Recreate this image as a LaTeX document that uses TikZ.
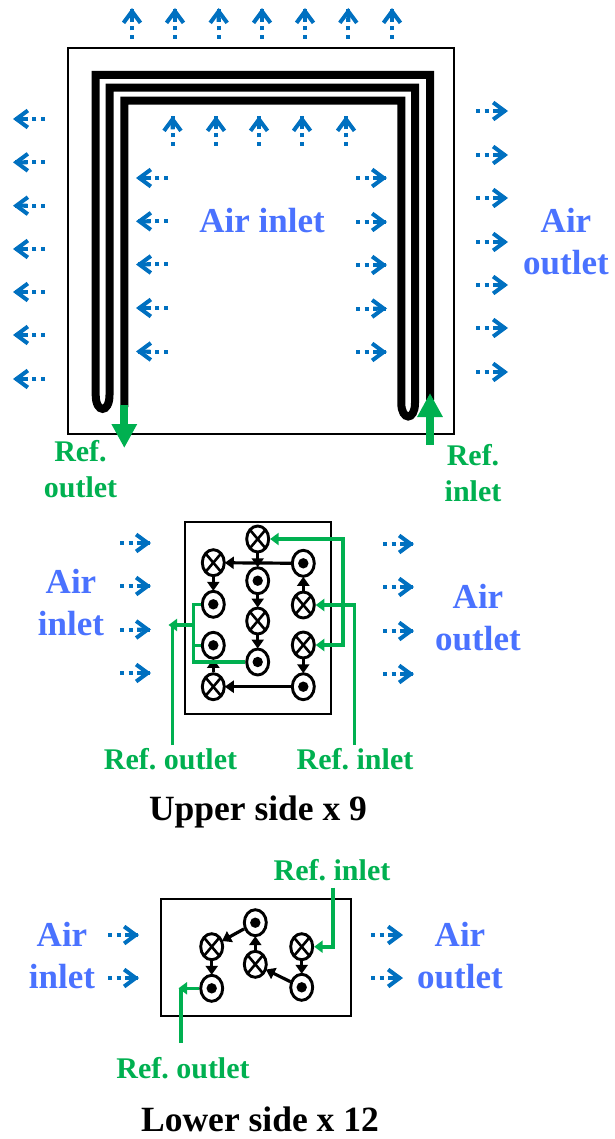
\documentclass[tikz,border=0pt]{standalone}
\usepackage{fontspec}
\setmainfont{Liberation Serif}
\usetikzlibrary{arrows.meta,shapes.geometric,calc}
\definecolor{refgreen}{HTML}{00B050}
\definecolor{airblue}{HTML}{0070C0}
\definecolor{labblue}{HTML}{4A72FF}
\frenchspacing
\tikzset{
  airshaft/.style={draw=airblue,line width=4pt,dash pattern=on 4pt off 4.7pt},
  airhead/.style={draw=airblue,line width=4pt,-{Straight Barb[length=11.5pt,width=17pt,line width=4pt,color=airblue]}},
  frame/.style={rectangle,draw=black,line width=2pt,inner sep=0pt},
  tube/.style={draw=black,line width=8pt,miter limit=10},
  coil/.style={ellipse,draw=black,line width=2.9pt,fill=white,inner sep=0pt,minimum width=22pt,minimum height=26pt},
  xcoil/.style={coil,path picture={
    \draw[line width=2.6pt] (path picture bounding box.north west)--(path picture bounding box.south east);
    \draw[line width=2.6pt] (path picture bounding box.north east)--(path picture bounding box.south west);}},
  dcoil/.style={coil,path picture={\fill[black] (path picture bounding box.center) circle (5.2pt);}},
  flow/.style={draw=black,line width=3.2pt,-{Triangle[length=9pt,width=12pt]},shorten >=-1pt},
  gline/.style={draw=refgreen,line width=3.6pt},
  garrow/.style={gline,-{Triangle[length=8.5pt,width=12pt]}},
  bigarrow/.style={draw=refgreen,line width=8pt,-{Triangle[length=24pt,width=24pt]}},
  airlabel/.style={text=labblue,font=\fontsize{35}{42}\selectfont\bfseries,inner sep=0pt,anchor=base,align=center},
  reflabel/.style={text=refgreen,font=\fontsize{30}{36}\selectfont\bfseries,inner sep=0pt,anchor=base,align=center},
  caption/.style={text=black,font=\fontsize{35.5}{40}\selectfont\bfseries,inner sep=0pt,anchor=base},
}
% shaft of dots and an open head, between two named coordinates
\newcommand{\airarrow}[5]{\coordinate (#1s) at (#2,#3);\coordinate (#1e) at (#4,#5);
  \draw[airshaft] (#1s)--(#1e);
  \draw[airhead] ($(#1s)!0.55!(#1e)$)--(#1e);}
\begin{document}
\begin{tikzpicture}[x=1pt,y=-1pt]
\useasboundingbox (0,0) rectangle (614,1139);
% main frame
\node[frame,minimum width=386.8pt,minimum height=386.3pt] (mainbox) at (261,241) {};
% serpentine
\coordinate (s1) at (124.3,407);
\coordinate (s2) at (124.3,100.7);
\coordinate (s3) at (401.3,100.7);
\coordinate (s4) at (430,75);
\draw[tube] (s1)--(s2)--(s3)--(401.3,403) .. controls (401.3,421) and (415,421) .. (415,403)
  --(415,87.7)--(109.5,87.7)--(109.5,395) .. controls (109.5,413.5) and (95.7,413.5) .. (95.7,395)
  --(95.7,75)--(s4)--(430,400);
% ref arrows
\coordinate (ro1) at (124.3,405);
\coordinate (ro2) at (124.3,448);
\draw[bigarrow] (ro1)--(ro2);
\coordinate (ri1) at (430,445);
\coordinate (ri2) at (430,393);
\draw[bigarrow] (ri1)--(ri2);
% blue arrows, top view
\foreach \x [count=\i] in {132,175,218.7,262,305,348.3,392} {\airarrow{ta\i}{\x}{39}{\x}{8}}
\foreach \y [count=\i] in {119,162.3,205.7,249,292,335,379} {\airarrow{la\i}{45}{\y}{13}{\y}}
\foreach \x [count=\i] in {172.5,216,259,302,346} {\airarrow{ia\i}{\x}{146}{\x}{116}}
\foreach \y [count=\i] in {178,221.3,264.5,308,351.5} {\airarrow{ila\i}{168}{\y}{136}{\y}}
\foreach \y [count=\i] in {178,222,265,308.5,352} {\airarrow{ira\i}{356}{\y}{387}{\y}}
\foreach \y [count=\i] in {111,155,198,242,285,328,372} {\airarrow{ra\i}{476}{\y}{508}{\y}}
% blue arrows, upper
\foreach \y [count=\i] in {543,586,629.5,673} {\airarrow{ula\i}{120}{\y}{151}{\y}}
\foreach \y [count=\i] in {544,587,631,674} {\airarrow{ura\i}{383}{\y}{414}{\y}}
% blue arrows, lower
\foreach \y [count=\i] in {935,978} {\airarrow{lla\i}{108}{\y}{139}{\y}\airarrow{lra\i}{371}{\y}{403}{\y}}
% labels top
\node[airlabel] (l1) at (262,233) {Air inlet};
\node[airlabel] (l2) at (566,275) {Air\\outlet};
\node[reflabel] (l3) at (80.5,497) {Ref.\\outlet};
\node[reflabel] (l4) at (473,501) {Ref.\\inlet};
% upper side
\node[frame,minimum width=146pt,minimum height=192.6pt] (ubox) at (257.7,618) {};
\node[xcoil] (A) at (257.7,539) {};
\node[xcoil] (B) at (213.3,562.7) {};
\node[dcoil] (C) at (303.3,563.3) {};
\node[dcoil] (D) at (257.7,580.7) {};
\node[dcoil] (E) at (213.3,604.3) {};
\node[xcoil] (F) at (303.3,605) {};
\node[xcoil] (G) at (257.7,621) {};
\node[dcoil] (H) at (213.3,645.3) {};
\node[xcoil] (I) at (303.3,645) {};
\node[dcoil] (J) at (257.7,662) {};
\node[xcoil] (K) at (213.3,686.7) {};
\node[dcoil] (L) at (303.3,686.7) {};
\draw[flow] (A)--(D);
\draw[flow] (C)--(B);
\draw[flow] (B)--(E);
\draw[flow] (F)--(C);
\draw[flow] (D)--(G);
\draw[flow] (G)--(J);
\draw[flow] (I)--(L);
\draw[flow] (L)--(K);
\draw[flow] (K)--(H);
\coordinate (uin) at (354.5,745);
\draw[garrow] (uin)|-(F.east);
\coordinate (ucross) at (342.7,0);
\draw[gline,{Triangle[length=8.5pt,width=12pt]}-{Triangle[length=8.5pt,width=12pt]}]
  (I.east)-|(ucross|-A.east)--(A.east);
\coordinate (uout) at (172.3,745);
\coordinate (ubus) at (193.5,0);
\draw[gline] (E.west)-|(ubus|-J.west)--(J.west);
\draw[gline] (H.west)--(ubus|-H.west);
\coordinate (utee) at (193.5,625);
\coordinate (utip) at (168.5,625);
\draw[garrow] (utee)--(utip);
\draw[gline] (uout)--(uout|-utip);
\node[reflabel] (l5) at (170.5,769) {Ref. outlet};
\node[reflabel] (l6) at (355,769) {Ref. inlet};
\node[airlabel] (l7) at (71,635) {Air\\inlet};
\node[airlabel] (l8) at (478,650) {Air\\outlet};
\node[caption] (c1) at (258,820) {Upper side x 9};
% lower side
\node[frame,minimum width=190pt,minimum height=116.4pt] (lbox) at (255.7,957.5) {};
\node[dcoil] (a) at (255.3,922.7) {};
\node[xcoil] (b) at (211.7,946.7) {};
\node[xcoil] (c) at (301.7,946.7) {};
\node[xcoil] (d) at (255.3,964.3) {};
\node[dcoil] (e) at (211.7,988.3) {};
\node[dcoil] (f) at (301.7,987.3) {};
\draw[flow] (a)--(b);
\draw[flow] (b)--(e);
\draw[flow] (c)--(f);
\draw[flow] (f)--(d);
\draw[flow] (d)--(a);
\coordinate (lin) at (332.7,887.5);
\draw[garrow] (lin)|-(c.east);
\coordinate (lout) at (180.7,1043);
\coordinate (ltip) at (178.5,988.3);
\draw[gline] (lout)--(lout|-ltip);
\draw[garrow] (e.west)--(ltip);
\node[reflabel] (l9) at (332,880) {Ref. inlet};
\node[reflabel] (l10) at (183,1078) {Ref. outlet};
\node[airlabel] (l11) at (62,988) {Air\\inlet};
\node[airlabel] (l12) at (460,988) {Air\\outlet};
\node[caption] (c2) at (260,1131) {Lower side x 12};
\end{tikzpicture}
\end{document}
